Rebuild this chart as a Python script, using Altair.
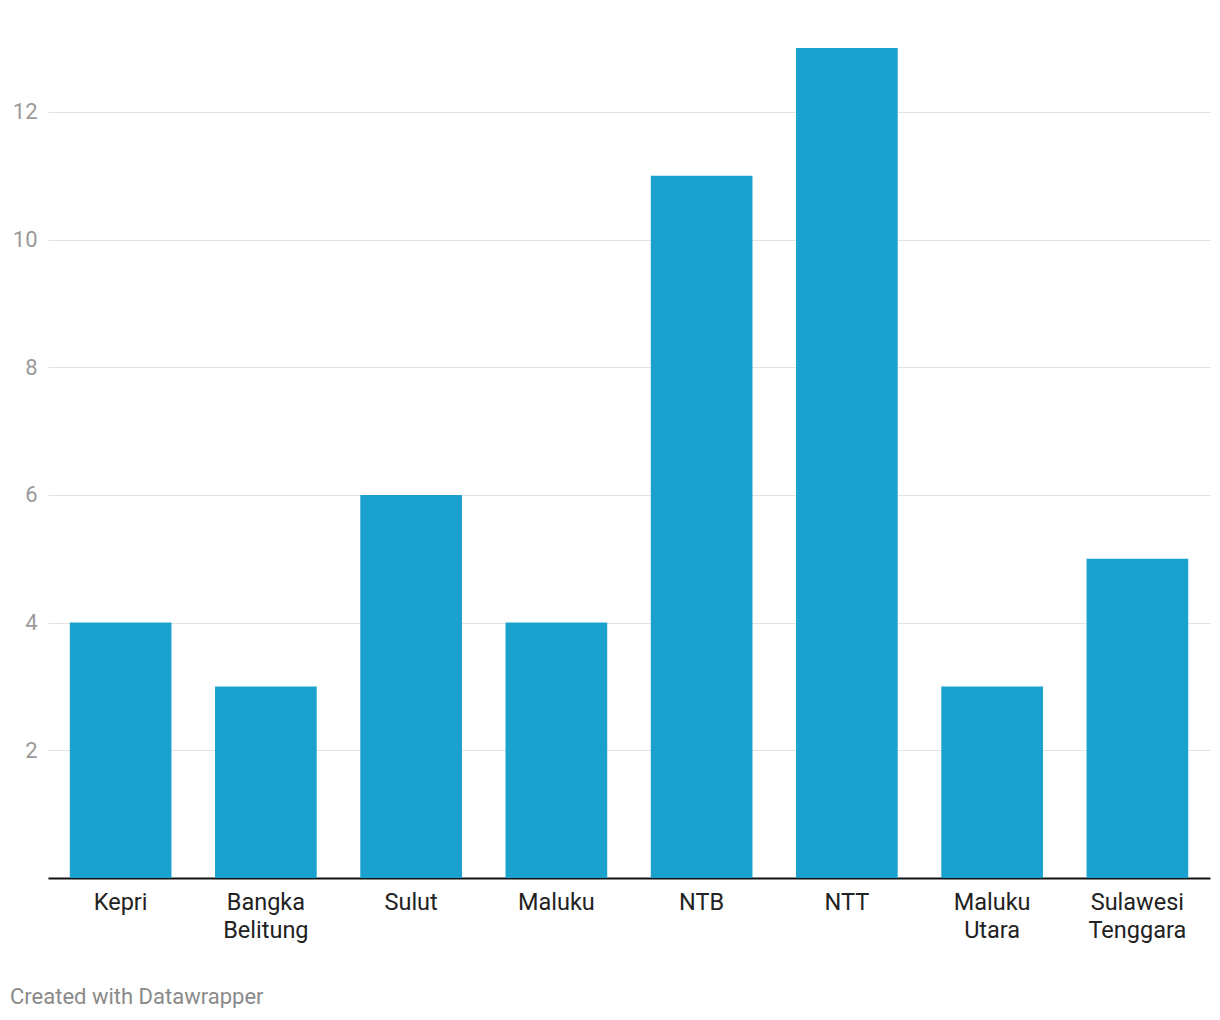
import altair as alt
import pandas as pd

categories = ["Kepri", "Bangka Belitung", "Sulut", "Maluku", "NTB", "NTT", "Maluku Utara", "Sulawesi Tenggara"]
values = [4, 3, 6, 4, 11, 13, 3, 5]
y_ticks = [2, 4, 6, 8, 10, 12]
footer = ["Created with Datawrapper"]

df = pd.DataFrame({"cat": categories, "val": values})
fdf = pd.DataFrame({"t": footer})

bars = alt.Chart(df).mark_bar(color="#1aa1cd").encode(
    x=alt.X("cat:N", sort=categories, title=None,
            scale=alt.Scale(paddingInner=0.3, paddingOuter=0.15),
            axis=alt.Axis(labelAngle=0, labelFont="Roboto", labelFontSize=23.5,
                          labelColor="#222222", labelPadding=12, ticks=False,
                          domainColor="#111111", domainWidth=2,
                          labelExpr="split(datum.label, ' ')", labelLineHeight=28,
                          labelBaseline="top")),
    y=alt.Y("val:Q", title=None,
            scale=alt.Scale(domain=[0, 13], nice=False),
            axis=alt.Axis(values=y_ticks, domain=False, ticks=False,
                          labelFont="Roboto", labelFontSize=22, labelColor="#9a9a9a",
                          labelPadding=11, gridColor="#e3e3e3", gridWidth=1.2)),
)

foot = alt.Chart(fdf).mark_text(align="left", baseline="middle", font="Roboto",
                                fontSize=22, color="#8a8a8a").encode(
    x=alt.value(-38), y=alt.value(949), text="t:N")

chart = alt.layer(bars, foot).properties(
    width=1162, height=830,
    padding={"left": 40, "top": 40, "right": 2, "bottom": 130},
    autosize=alt.AutoSizeParams(type="none"),
).configure_view(stroke=None)

chart.save("out.html", embed_options={"renderer": "svg", "actions": False})
